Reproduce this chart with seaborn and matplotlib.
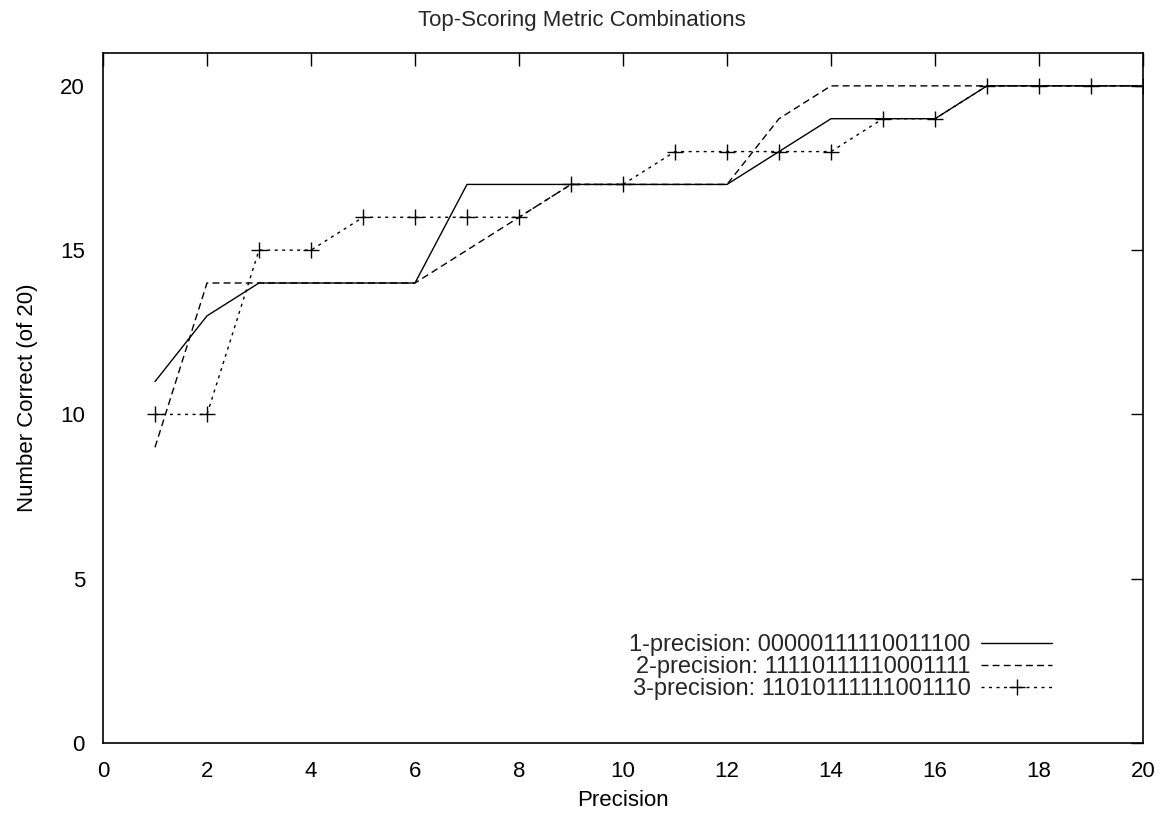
import matplotlib
matplotlib.use("Agg")
import matplotlib.pyplot as plt
import seaborn as sns
import pandas as pd

precision = list(range(1, 21))
series1 = [11, 13, 14, 14, 14, 14, 17, 17, 17, 17, 17, 17, 18, 19, 19, 19, 20, 20, 20, 20]
series2 = [9, 14, 14, 14, 14, 14, 15, 16, 17, 17, 17, 17, 19, 20, 20, 20, 20, 20, 20, 20]
series3 = [10, 10, 15, 15, 16, 16, 16, 16, 17, 17, 18, 18, 18, 18, 19, 19, 20, 20, 20, 20]
labels = ["1-precision: 00000111110011100",
          "2-precision: 11110111110001111",
          "3-precision: 11010111111001110"]

sns.set_theme(style="white")
plt.rcParams['font.family'] = ['Liberation Sans', 'DejaVu Sans']

fig = plt.figure(figsize=(11.63, 8.14), dpi=100)
ax = fig.add_axes([103/1163, 1-743/814, (1143-103)/1163, (743-53)/814])

df = pd.DataFrame({"Precision": precision, "s1": series1, "s2": series2, "s3": series3})
sns.lineplot(data=df, x="Precision", y="s1", ax=ax, color="black", lw=1.0,
             linestyle="-", label=labels[0])
sns.lineplot(data=df, x="Precision", y="s2", ax=ax, color="black", lw=1.0,
             label=labels[1])
ax.lines[-1].set_dashes([5, 3])
sns.lineplot(data=df, x="Precision", y="s3", ax=ax, color="black", lw=1.0,
             marker="+", markersize=11, markeredgewidth=1.0,
             markeredgecolor="black", markerfacecolor="black", label=labels[2])
ax.lines[-1].set_dashes([2.2, 3.2])

ax.set_xlim(0, 20)
ax.set_ylim(0, 21)
ax.set_xticks(range(0, 21, 2))
ax.set_yticks(range(0, 21, 5))
ax.tick_params(direction="in", length=9, width=1, top=True, right=True,
               labelsize=16, colors="black")
ax.tick_params(axis="y", pad=13)
ax.tick_params(axis="x", pad=13)
for s in ax.spines.values():
    s.set_color("black")
    s.set_linewidth(1.2)
ax.set_xlabel("Precision", fontsize=16, color="black", labelpad=6)
ax.set_ylabel("Number Correct (of 20)", fontsize=16, color="black", labelpad=16)
fig.suptitle("Top-Scoring Metric Combinations", fontsize=16, y=0.988)

leg = ax.legend(loc="lower right", bbox_to_anchor=(0.924, 0.045), frameon=False,
                markerfirst=False, handlelength=3.0, fontsize=17,
                labelspacing=0.0, handletextpad=0.45, borderpad=0)
for line in leg.get_lines():
    line.set_markeredgecolor("black")

fig.savefig("out.png", dpi=100)
